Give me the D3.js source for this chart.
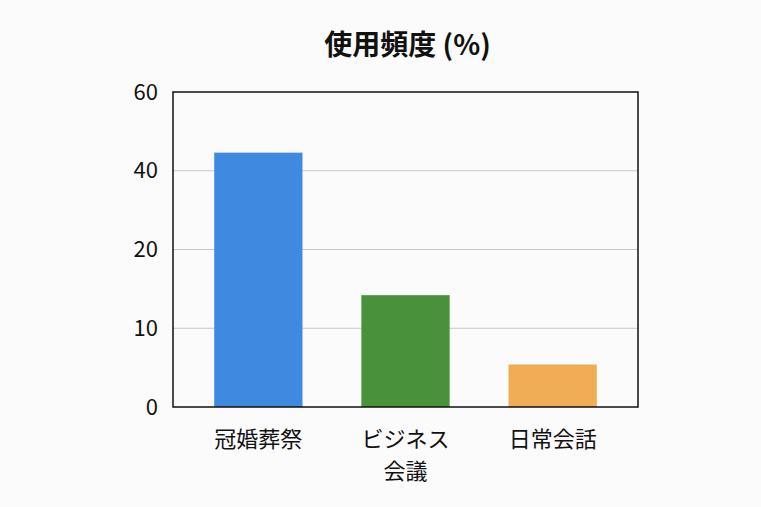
<!DOCTYPE html>
<html><head><meta charset="utf-8">
<script src="https://cdn.jsdelivr.net/npm/d3@7"></script>
<style>body{margin:0;background:#fbfbfb;font-family:"Noto Sans CJK JP","Noto Sans",sans-serif;}</style>
</head><body>
<script>
var categories = [["冠婚葬祭"], ["ビジネス", "会議"], ["日常会話"]];
var values = [44.6, 14.2, 5.4];
var colors = ["#3f8ae0", "#4a913c", "#f0ad55"];
var tickValues = [0, 10, 20, 40, 60];

var width = 761, height = 507;
var plotLeft = 173, plotRight = 638, plotTop = 92, plotBottom = 407;

var svg = d3.select("body").append("svg").attr("width", width).attr("height", height);

var x = d3.scaleBand().domain(d3.range(categories.length)).range([plotLeft, plotRight])
    .paddingInner(0.4).paddingOuter(0.28);
// ticks are evenly spaced though not linear, so map piecewise
var y = d3.scaleLinear().domain(tickValues)
    .range(tickValues.map(function(d, i){ return plotBottom - i*(plotBottom-plotTop)/(tickValues.length-1); }));

svg.append("g").selectAll("line").data(tickValues.slice(1, -1)).enter().append("line")
    .attr("x1", plotLeft).attr("x2", plotRight)
    .attr("y1", function(d){ return y(d); }).attr("y2", function(d){ return y(d); })
    .attr("stroke", "#c8c8c8").attr("stroke-width", 1);

svg.selectAll("rect.bar").data(values).enter().append("rect").attr("class", "bar")
    .attr("x", function(d, i){ return x(i); })
    .attr("width", x.bandwidth())
    .attr("y", function(d){ return y(d); })
    .attr("height", function(d){ return plotBottom - y(d); })
    .attr("fill", function(d, i){ return colors[i]; });

svg.append("rect").attr("x", plotLeft).attr("y", plotTop).attr("width", plotRight-plotLeft).attr("height", plotBottom-plotTop)
    .attr("fill", "none").attr("stroke", "#111").attr("stroke-width", 1.5);

svg.selectAll("text.ytick").data(tickValues).enter().append("text").attr("class", "ytick")
    .attr("x", plotLeft - 15).attr("y", function(d){ return y(d); }).attr("dy", "0.35em")
    .attr("text-anchor", "end").attr("font-size", 22).attr("fill", "#111")
    .text(function(d){ return d; });

var cat = svg.selectAll("text.xcat").data(categories).enter().append("text").attr("class", "xcat")
    .attr("text-anchor", "middle").attr("font-size", 22).attr("fill", "#111")
    .attr("transform", function(d, i){ return "translate(" + (x(i) + x.bandwidth()/2) + "," + (plotBottom + 40) + ")"; });
cat.selectAll("tspan").data(function(d){ return d; }).enter().append("tspan")
    .attr("x", 0).attr("dy", function(d, i){ return i ? "1.45em" : 0; })
    .text(function(d){ return d; });

svg.append("text").attr("x", (plotLeft+plotRight)/2 + 2).attr("y", 55).attr("text-anchor", "middle")
    .attr("font-size", 28).attr("font-weight", "bold").attr("fill", "#111")
    .text("使用頻度 (%)");
</script>
</body></html>
